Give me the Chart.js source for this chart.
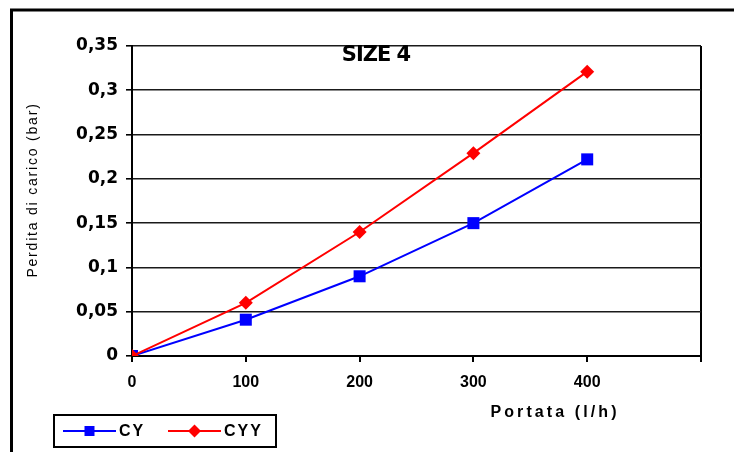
<!DOCTYPE html>
<html>
<head>
<meta charset="utf-8">
<script src="https://cdn.jsdelivr.net/npm/chart.js@4"></script>
<style>
  html, body { margin: 0; padding: 0; background: #fff; }
  #wrap { width: 734px; height: 452px; position: relative; }
</style>
</head>
<body>
<div id="wrap"><canvas id="c" width="734" height="452"></canvas></div>
<script>
const chartTitle = 'SIZE 4';
const xAxisTitle = 'Portata (l/h)';
const yAxisTitle = 'Perdita di carico (bar)';
const flowRates = [0, 100, 200, 300, 400];
const cyValues = [0, 0.041, 0.09, 0.15, 0.222];
const cyyValues = [0, 0.06, 0.14, 0.229, 0.321];
const seriesNames = ['CY', 'CYY'];
const yTickLabels = {0: '0', 0.05: '0,05', 0.1: '0,1', 0.15: '0,15', 0.2: '0,2', 0.25: '0,25', 0.3: '0,3', 0.35: '0,35'};
const xTickLabels = {0: '0', 100: '100', 200: '200', 300: '300', 400: '400', 500: ''};

const decor = {
  id: 'decor',
  beforeDraw(chart) {
    const ctx = chart.ctx;
    ctx.save();
    ctx.fillStyle = '#fff';
    ctx.fillRect(0, 0, chart.width, chart.height);
    ctx.strokeStyle = '#000';
    ctx.lineWidth = 3;
    ctx.beginPath();
    ctx.moveTo(11.5, chart.height);
    ctx.lineTo(11.5, 10);
    ctx.lineTo(chart.width, 10);
    ctx.stroke();
    ctx.restore();
  },
  afterDraw(chart) {
    const ctx = chart.ctx;
    ctx.save();
    // title
    ctx.fillStyle = '#000';
    ctx.font = 'bold 21px "DejaVu Sans", sans-serif';
    try { ctx.letterSpacing = '-1px'; } catch (e) {}
    ctx.textAlign = 'center';
    ctx.textBaseline = 'middle';
    ctx.fillText(chartTitle, 376, 56);
    // y title
    ctx.save();
    ctx.translate(33, 190);
    ctx.rotate(-Math.PI / 2);
    ctx.font = '14px "Liberation Sans", Arial, sans-serif';
    try { ctx.letterSpacing = '1.8px'; } catch (e) {}
    ctx.fillText(yAxisTitle, 0, 0);
    ctx.restore();
    // x title
    ctx.font = 'bold 16px "Liberation Sans", Arial, sans-serif';
    try { ctx.letterSpacing = '3.1px'; } catch (e) {}
    ctx.fillText(xAxisTitle, 555, 413);
    // legend
    ctx.lineWidth = 2;
    ctx.strokeStyle = '#000';
    ctx.strokeRect(54, 415, 222, 32);
    const ly = 431;
    const items = [
      {x0: 63, x1: 116, tx: 119, ds: chart.data.datasets[0]},
      {x0: 168, x1: 221, tx: 224, ds: chart.data.datasets[1]}
    ];
    ctx.font = 'bold 16px "Liberation Sans", Arial, sans-serif';
    try { ctx.letterSpacing = '2px'; } catch (e) {}
    ctx.textAlign = 'left';
    items.forEach((it, i) => {
      ctx.strokeStyle = it.ds.borderColor;
      ctx.lineWidth = 2;
      ctx.beginPath();
      ctx.moveTo(it.x0, ly);
      ctx.lineTo(it.x1, ly);
      ctx.stroke();
      ctx.fillStyle = it.ds.borderColor;
      const cx = (it.x0 + it.x1) / 2;
      ctx.beginPath();
      if (i === 0) {
        ctx.rect(cx - 5, ly - 5, 10, 10);
      } else {
        ctx.moveTo(cx, ly - 6.5);
        ctx.lineTo(cx + 6.5, ly);
        ctx.lineTo(cx, ly + 6.5);
        ctx.lineTo(cx - 6.5, ly);
        ctx.closePath();
      }
      ctx.fill();
      ctx.fillStyle = '#000';
      ctx.fillText(it.ds.label, it.tx, ly + 1);
    });
    ctx.restore();
  }
};

new Chart(document.getElementById('c'), {
  type: 'line',
  data: {
    datasets: [
      {
        label: seriesNames[0],
        data: flowRates.map((x, i) => ({x: x, y: cyValues[i]})),
        borderColor: '#0000ff',
        backgroundColor: '#0000ff',
        borderWidth: 2,
        pointStyle: 'rect',
        pointRadius: 8.5,
        pointHoverRadius: 8.5,
        pointBorderWidth: 0,
        order: 1
      },
      {
        label: seriesNames[1],
        data: flowRates.map((x, i) => ({x: x, y: cyyValues[i]})),
        borderColor: '#ff0000',
        backgroundColor: '#ff0000',
        borderWidth: 2,
        pointStyle: 'rectRot',
        pointRadius: 7,
        pointHoverRadius: 7,
        pointBorderWidth: 0,
        order: 0
      }
    ]
  },
  options: {
    responsive: false,
    animation: false,
    devicePixelRatio: 1,
    layout: { padding: { top: 46, right: 33, left: 0, bottom: 0 } },
    plugins: {
      legend: { display: false },
      title: { display: false },
      tooltip: { enabled: false }
    },
    scales: {
      x: {
        type: 'linear',
        min: 0,
        max: 500,
        afterFit(scale) { scale.height = 96; },
        border: { display: true, color: '#000', width: 2 },
        grid: {
          drawOnChartArea: true,
          color: (c) => (c.tick && c.tick.value === 500) ? '#000' : 'rgba(0,0,0,0)',
          lineWidth: 2,
          tickColor: '#000',
          tickLength: 6,
          tickWidth: 2
        },
        ticks: {
          stepSize: 100,
          color: '#000',
          padding: 11,
          maxRotation: 0,
          font: { family: '"Liberation Sans", Arial, sans-serif', weight: 'bold', size: 16 },
          callback: (v) => xTickLabels[v] !== undefined ? xTickLabels[v] : ''
        }
      },
      y: {
        type: 'linear',
        min: 0,
        max: 0.35,
        afterFit(scale) { scale.width = 132; },
        border: { display: true, color: '#000', width: 2 },
        grid: {
          color: '#1a1a1a',
          lineWidth: 1.6,
          tickColor: '#000',
          tickLength: 6,
          tickWidth: 1.6
        },
        ticks: {
          stepSize: 0.05,
          color: '#000',
          padding: 8,
          font: { family: '"DejaVu Sans", sans-serif', weight: 'bold', size: 17 },
          callback: (v) => {
            const k = Math.round(v * 100) / 100;
            return yTickLabels[k] !== undefined ? yTickLabels[k] : '';
          }
        }
      }
    }
  },
  plugins: [decor]
});
</script>
</body>
</html>
